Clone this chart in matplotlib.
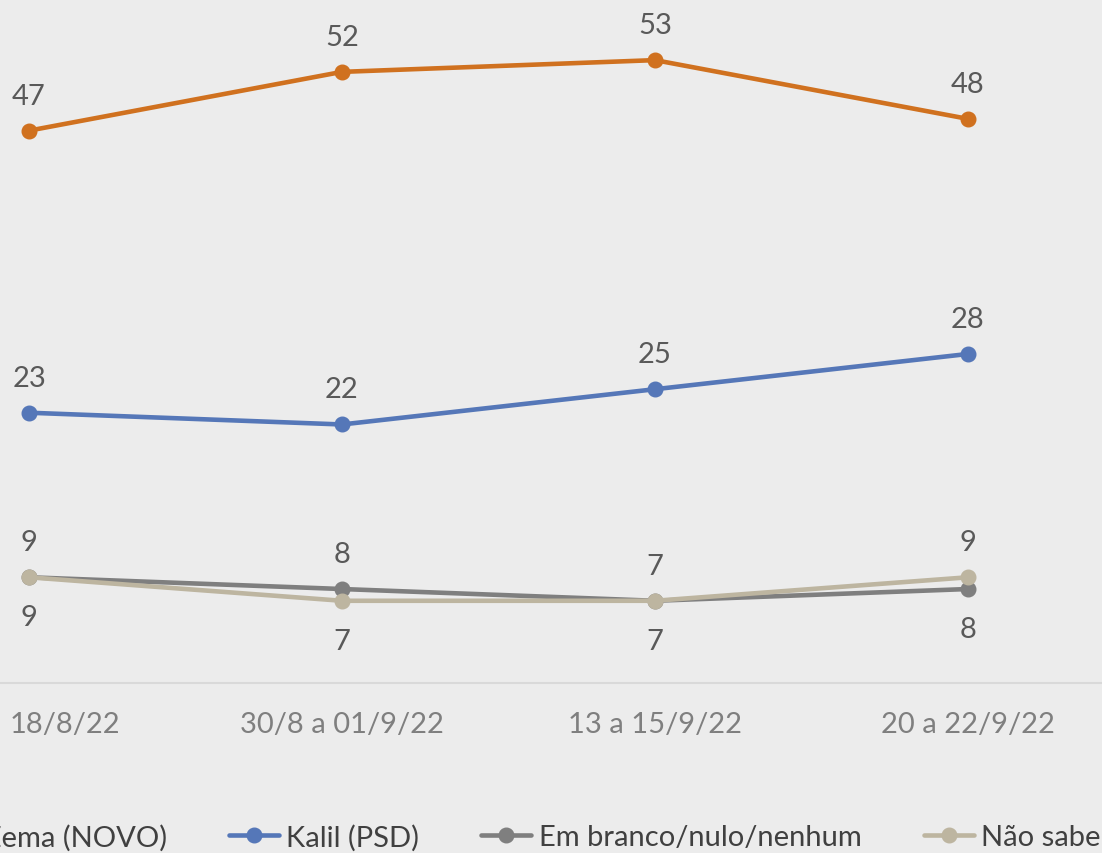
import matplotlib
matplotlib.use("Agg")
from matplotlib import pyplot as plt
from matplotlib.transforms import ScaledTranslation

# dados da pesquisa
datas = ["18/8/22", "30/8 a 01/9/22", "13 a 15/9/22", "20 a 22/9/22"]
zema = [47, 52, 53, 48]
kalil = [23, 22, 25, 28]
branco = [9, 8, 7, 8]
naosabe = [9, 7, 7, 9]

series = [
    ("Zema (NOVO)", zema, "#D0711F"),
    ("Kalil (PSD)", kalil, "#5577B8"),
    ("Em branco/nulo/nenhum", branco, "#7F7F7F"),
    ("Não sabe", naosabe, "#BDB5A0"),
]
# posicao do rotulo: 1 acima, -1 abaixo
posicoes = [
    [1, 1, 1, 1],
    [1, 1, 1, 1],
    [-1, 1, -1, -1],
    [1, -1, 1, 1],
]

plt.rcParams['font.family'] = ['Lato', 'DejaVu Sans']
fundo = "#ECECEC"
tam = 21

fig = plt.figure(figsize=(11.02, 8.54), dpi=100, facecolor=fundo)
ax = fig.add_axes([-127.5 / 1102, 0.199, 1252 / 1102, 0.801])
ax.set_facecolor(fundo)

x = list(range(len(datas)))
for (nome, vals, cor), pos in zip(series, posicoes):
    ax.plot(x, vals, color=cor, lw=3.3, marker="o", ms=10.5, label=nome,
            solid_capstyle="round", zorder=3)
    for xi, v, p in zip(x, vals, pos):
        off = 35 if p > 0 else -40
        ax.annotate(str(v), (xi, v), xytext=(0, off * 0.72), textcoords="offset points",
                    ha="center", va="center", fontsize=tam, color="#595959")

ax.set_xlim(-0.5, 3.5)
ax.set_ylim(0, 58.2)
ax.set_xticks(x)
ax.set_xticklabels(datas, fontsize=tam, color="#7F7F7F")
ax.tick_params(axis="x", length=0, pad=20)
# primeiro rotulo empurrado para dentro (como no excel)
lbl = ax.get_xticklabels()[0]
lbl.set_transform(lbl.get_transform() + ScaledTranslation(35.5 / 100, 0, fig.dpi_scale_trans))
ax.set_yticks([])
for s in ["top", "left", "right"]:
    ax.spines[s].set_visible(False)
ax.spines["bottom"].set_color("#D9D9D9")
ax.spines["bottom"].set_linewidth(1.5)

fig.legend(loc="center left", bbox_to_anchor=(-74 / 1102, 1 - 838 / 854),
           ncol=4, frameon=False, fontsize=tam, handlelength=1.71,
           handletextpad=0.27, columnspacing=2.12, borderpad=0, borderaxespad=0,
           labelcolor="#404040")

fig.savefig("out.png", dpi=100, facecolor=fundo)
